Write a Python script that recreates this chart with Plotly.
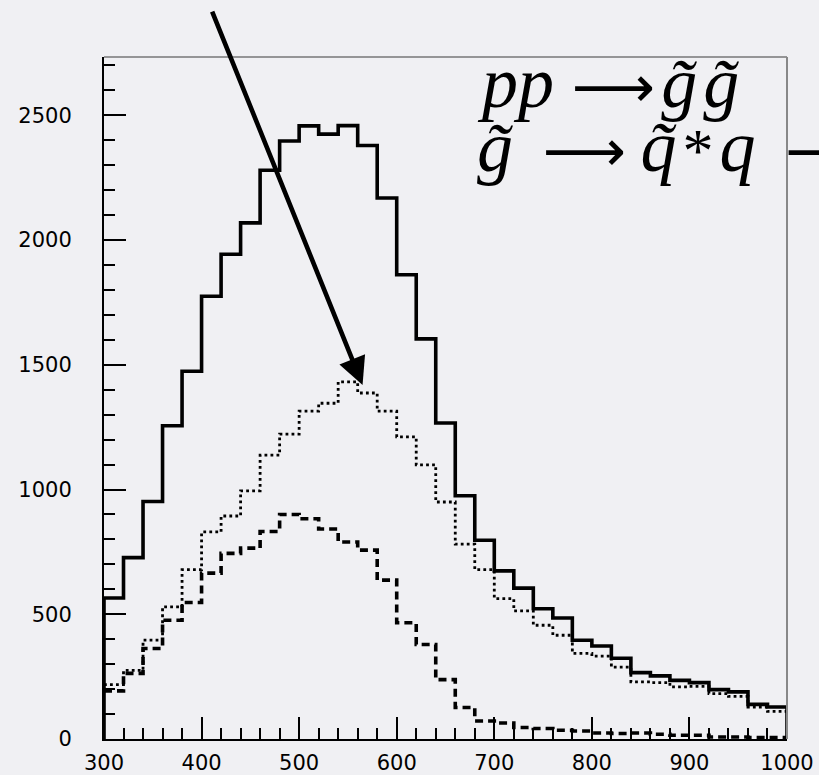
import plotly.graph_objects as go

# Histogram binning: 35 bins of width 20 between 300 and 1000
bin_edges = list(range(300, 1001, 20))

# Bin contents for the three distributions
counts_total = [565, 727, 952, 1256, 1474, 1775, 1943, 2069, 2280, 2397,
                2458, 2425, 2459, 2379, 2169, 1861, 1604, 1267, 975, 797,
                674, 605, 522, 485, 396, 373, 324, 266, 253, 235,
                226, 198, 189, 139, 128]
counts_dotted = [218, 275, 396, 530, 679, 830, 894, 995, 1138, 1222,
                 1314, 1346, 1432, 1387, 1314, 1211, 1099, 950, 781, 679,
                 563, 514, 456, 416, 343, 332, 288, 229, 226, 209,
                 211, 182, 171, 128, 111]
counts_dashed = [193, 263, 363, 476, 547, 665, 744, 765, 832, 900,
                 883, 842, 790, 757, 637, 466, 379, 238, 126, 72,
                 64, 46, 42, 35, 32, 24, 22, 24, 19, 15,
                 15, 8, 8, 6, 6]

x_ticks = [300, 400, 500, 600, 700, 800, 900, 1000]
y_ticks = [0, 500, 1000, 1500, 2000, 2500]

BG = "#f0f0f3"
LABEL_FONT = dict(family="DejaVu Sans", size=21, color="black")


def step_xy(edges, values, close=True):
    """Outline of a histogram drawn as a step line."""
    xs = list(edges[:-1]) + [edges[-1]]
    ys = list(values) + [values[-1]]
    if close:
        xs = [edges[0]] + xs + [edges[-1]]
        ys = [0] + ys + [0]
    return xs, ys


fig = go.Figure()

x, y = step_xy(bin_edges, counts_dashed, close=False)
fig.add_trace(go.Scatter(x=x, y=y, mode="lines", line_shape="hv",
                         line=dict(color="black", width=3.6, dash="8px,5px")))

x, y = step_xy(bin_edges, counts_dotted, close=False)
fig.add_trace(go.Scatter(x=x, y=y, mode="lines", line_shape="hv",
                         line=dict(color="black", width=2.8, dash="2.8px,3.2px")))

x, y = step_xy(bin_edges, counts_total)
fig.add_trace(go.Scatter(x=x, y=y, mode="lines", line_shape="hv",
                         line=dict(color="black", width=3.6)))

axis_common = dict(
    showgrid=False, zeroline=False, showline=True, linecolor="black",
    linewidth=2, ticks="inside", ticklen=22, tickwidth=1.5, tickcolor="black",
    tickfont=LABEL_FONT, automargin=False,
)

fig.update_xaxes(range=[300, 1000], tickvals=x_ticks, ticklabelstandoff=4,
                 minor=dict(ticks="inside", ticklen=11, tickwidth=1.5,
                            tickcolor="black", dtick=20),
                 **axis_common)
fig.update_yaxes(range=[0, 2734], tickvals=y_ticks, ticklabelstandoff=26,
                 minor=dict(ticks="inside", ticklen=11, tickwidth=1.5,
                            tickcolor="black", dtick=100),
                 **axis_common)

# Thin grey frame on the top and right sides
fig.add_shape(type="line", xref="paper", yref="paper", x0=0, x1=1, y0=1, y1=1,
              line=dict(color="#777777", width=1.5))
fig.add_shape(type="line", xref="paper", yref="paper", x0=1, x1=1, y0=0, y1=1,
              line=dict(color="#888888", width=2))

# Arrow pointing at the peak of the dotted distribution
fig.add_annotation(x=565, y=1419, xref="x", yref="y", ax=-151, ay=-375,
                   axref="pixel", ayref="pixel", text="", showarrow=True,
                   arrowhead=2, arrowsize=1.2, arrowwidth=4.6, arrowcolor="black")

# Process labels
MATH_FONT = dict(family="Liberation Serif", size=72, color="black")
ARROW = '<span style="font-family:DejaVu Sans;font-size:58px">\u27F6</span>'
STAR = '<span style="font-size:62px">*</span>'
HAIR = "\u200A"
fig.add_annotation(x=0.543, y=0.962, xref="paper", yref="paper",
                   xanchor="left", yanchor="middle", showarrow=False,
                   text="<i>pp</i> " + ARROW + HAIR + "<i>g\u0303" + HAIR
                        + "g\u0303</i>",
                   font=MATH_FONT)
fig.add_annotation(x=0.543, y=0.868, xref="paper", yref="paper",
                   xanchor="left", yanchor="middle", showarrow=False,
                   text="<i>g\u0303</i> \u2006" + ARROW + "\u2009<i>q\u0303</i>"
                        + HAIR + STAR + HAIR + "<i>q</i> \u2006" + ARROW,
                   font=MATH_FONT)

fig.update_layout(
    width=819, height=775,
    margin=dict(l=104, r=32, t=57, b=36),
    paper_bgcolor=BG, plot_bgcolor=BG,
    showlegend=False,
)

fig.write_html("out.html")
